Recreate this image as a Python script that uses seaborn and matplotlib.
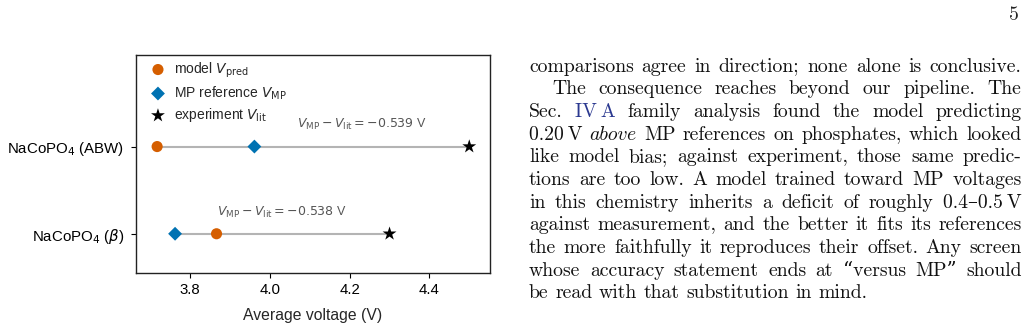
"""
Voltage comparison for the two NaCoPO4 polymorphs: model prediction,
Materials Project reference and experiment, plus the surrounding page text.
"""

import matplotlib
matplotlib.use("Agg")
import matplotlib.pyplot as plt
import numpy as np
import pandas as pd
import seaborn as sns


# chart data (row 0 is drawn at the bottom)
materials = ["NaCoPO$_4$ ($\\beta$)", "NaCoPO$_4$ (ABW)"]
v_pred = [3.866, 3.717]
v_mp = [3.762, 3.961]
v_lit = [4.300, 4.500]
series_names = ["model $V_{\\rm pred}$", "MP reference $V_{\\rm MP}$", "experiment $V_{\\rm lit}$"]
x_ticks = [3.8, 4.0, 4.2, 4.4]
x_label = "Average voltage (V)"

# page text to the right of the figure
page_number = "5"
text_lines = [
    "comparisons agree in direction; none alone is conclusive.",
    "The consequence reaches beyond our pipeline. The",
    "Sec. [b]IV\u2009A family analysis found the model predicting",
    "0.20\u2009V [i]above MP references on phosphates, which looked",
    "like model bias; against experiment, those same predic-",
    "tions are too low. A model trained toward MP voltages",
    "in this chemistry inherits a deficit of roughly 0.4\u20130.5\u2009V",
    "against measurement, and the better it fits its references",
    "the more faithfully it reproduces their offset. Any screen",
    "whose accuracy statement ends at \u201cversus MP\u201d should",
    "be read with that substitution in mind.",
]
indented_lines = [1]
ragged_lines = [10]

W, H, DPI = 1027, 330, 100


def build_frame():
    rows = []
    for i in range(len(materials)):
        for name, vals in zip(series_names, [v_pred, v_mp, v_lit]):
            rows.append({"pos": i, "voltage": vals[i], "series": name})
    return pd.DataFrame(rows)


def draw_paragraph(fig, lines, left=529, right=1021.5, base=71.5, step=22.68, size=14.2):
    renderer = fig.canvas.get_renderer()
    fam = ["cmr10", "DejaVu Serif"]
    for i, line in enumerate(lines):
        y = 1 - (base + i * step) / H
        texts = []
        for word in line.split(" "):
            kw = dict(family=fam, color="#111111")
            if word.startswith("[b]"):
                word, kw["color"] = word[3:], "#2b3990"
            elif word.startswith("[i]"):
                word, kw["family"] = word[3:], ["cmmi10", "DejaVu Serif"]
            texts.append(fig.text(0, y, word, fontsize=size, va="baseline", **kw))
        widths = [t.get_window_extent(renderer=renderer).width for t in texts]
        x = left + (23 if i in indented_lines else 0)
        if i in ragged_lines or len(texts) < 2:
            gap = size * DPI / 72 * 0.333
        else:
            gap = (right - x - sum(widths)) / (len(texts) - 1)
        for t, w in zip(texts, widths):
            t.set_x(x / W)
            x += w + gap


def main():
    sns.set_style("ticks")
    plt.rcParams["font.family"] = ["Liberation Sans", "DejaVu Sans"]

    df = build_frame()
    colors = sns.color_palette("colorblind")
    palette = dict(zip(series_names, [colors[3], "#0072B2", "black"]))
    markers = dict(zip(series_names, ["o", "D", "*"]))
    sizes = dict(zip(series_names, [64, 50, 110]))

    fig = plt.figure(figsize=(W / DPI, H / DPI), dpi=DPI)
    ax = fig.add_axes([136 / W, 1 - 273 / H, 354 / W, 218 / H])

    # connecting bars from lowest to highest voltage of each material
    stacked = np.vstack([v_pred, v_mp, v_lit])
    pos = np.arange(len(materials))
    ax.hlines(pos, stacked.min(axis=0), stacked.max(axis=0),
              color="#b4b4b4", lw=1.5, zorder=1)

    for name in series_names:
        sub = df[df["series"] == name]
        sns.scatterplot(data=sub, x="voltage", y="pos", color=palette[name],
                        marker=markers[name], s=sizes[name], linewidth=0,
                        edgecolor="none", label=name, zorder=3, ax=ax)

    # gap annotation between MP and experiment
    for i in range(len(materials)):
        gap = v_mp[i] - v_lit[i]
        ax.text((v_mp[i] + v_lit[i]) / 2, pos[i] + 0.25,
                "$V_{\\rm MP} - V_{\\rm lit} = %.3f$ V" % gap,
                ha="center", va="center", color="#555555", fontsize=9)

    ax.set_xlim(3.664, 4.552)
    ax.set_ylim(-0.45, 2.05)
    ax.set_xticks(x_ticks)
    ax.set_xticklabels([f"{v:.1f}" for v in x_ticks])
    ax.set_yticks(pos)
    ax.set_yticklabels(materials)
    ax.tick_params(labelsize=10.8, colors="black")
    ax.tick_params(axis="y", pad=5)
    ax.set_xlabel(x_label, fontsize=11.3, labelpad=8)
    ax.set_ylabel("")
    for sp in ax.spines.values():
        sp.set_visible(True)
        sp.set_color("#222222")
        sp.set_linewidth(1.0)

    ax.legend(loc="upper left", bbox_to_anchor=(0.013, 1.014), frameon=False,
              fontsize=10, handlelength=1.3, handletextpad=0.5,
              labelspacing=0.33, borderaxespad=0.2)

    fig.text(1014 / W, 1 - 15 / H, page_number, fontsize=14.2,
             family=["cmr10", "DejaVu Serif"], ha="center", va="center")
    draw_paragraph(fig, text_lines)

    fig.savefig("out.png", dpi=DPI)
    plt.close(fig)


if __name__ == "__main__":
    main()
